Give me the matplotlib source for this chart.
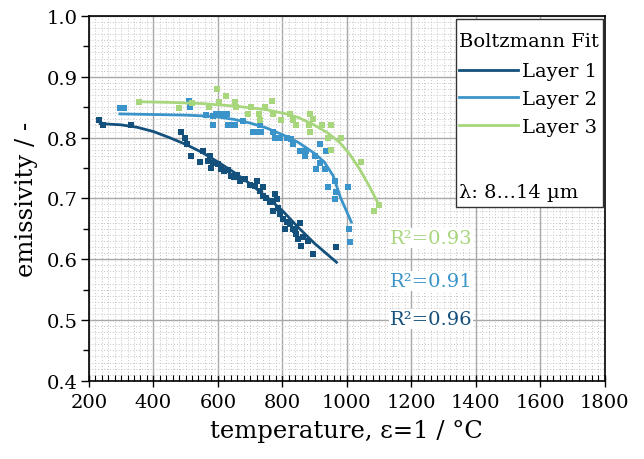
import matplotlib
matplotlib.use("Agg")
import matplotlib.pyplot as plt
from matplotlib.patches import Rectangle
from matplotlib.ticker import MultipleLocator

plt.rcParams['font.family'] = ['DejaVu Serif', 'Liberation Serif']

# ---- data ----
l1_x = [231, 244, 332, 487, 498, 503, 518, 544, 554, 570, 575, 580, 585, 601, 611, 620, 632, 642,
        650, 658, 668, 684, 700, 715, 720, 730, 741, 741, 750, 761, 771, 771, 777, 782, 787, 792,
        802, 808, 813, 823, 833, 840, 844, 849, 854, 859, 864, 880, 895, 966]
l1_y = [0.829, 0.821, 0.820, 0.809, 0.799, 0.789, 0.769, 0.760, 0.778, 0.762, 0.770, 0.750, 0.759,
        0.757, 0.748, 0.745, 0.746, 0.737, 0.735, 0.738, 0.729, 0.732, 0.722, 0.720, 0.729, 0.713,
        0.704, 0.718, 0.700, 0.694, 0.696, 0.680, 0.707, 0.699, 0.685, 0.674, 0.666, 0.650, 0.661,
        0.658, 0.650, 0.648, 0.641, 0.633, 0.660, 0.622, 0.636, 0.630, 0.609, 0.620]

l2_x = [296, 309, 511, 513, 563, 584, 585, 594, 611, 627, 632, 647, 653, 678, 709, 715, 722, 730,
        735, 771, 777, 782, 792, 813, 828, 833, 854, 870, 875, 901, 906, 916, 916, 932, 937, 942,
        963, 963, 968, 1004, 1007, 1011]
l2_y = [0.849, 0.849, 0.861, 0.850, 0.838, 0.820, 0.835, 0.839, 0.839, 0.839, 0.820, 0.820, 0.820,
        0.828, 0.809, 0.810, 0.810, 0.820, 0.809, 0.809, 0.799, 0.800, 0.799, 0.799, 0.798, 0.789,
        0.778, 0.770, 0.778, 0.770, 0.748, 0.759, 0.789, 0.748, 0.778, 0.719, 0.729, 0.699, 0.710,
        0.719, 0.650, 0.629]

l3_x = [356, 480, 521, 573, 596, 604, 624, 653, 656, 694, 704, 727, 730, 746, 767, 770, 797, 823,
        833, 844, 883, 885, 887, 895, 922, 942, 950, 952, 983, 1044, 1085, 1100]
l3_y = [0.859, 0.849, 0.857, 0.850, 0.880, 0.859, 0.869, 0.859, 0.850, 0.839, 0.850, 0.839, 0.829,
        0.850, 0.860, 0.839, 0.829, 0.839, 0.829, 0.820, 0.820, 0.839, 0.809, 0.830, 0.820, 0.800,
        0.820, 0.779, 0.800, 0.760, 0.679, 0.689]

# Boltzmann fit curves
f1_x = [235, 300, 350, 400, 450, 500, 550, 600, 650, 700, 750, 800, 850, 900, 968]
f1_y = [0.823, 0.821, 0.817, 0.810, 0.800, 0.789, 0.776, 0.760, 0.743, 0.724, 0.703, 0.680, 0.652, 0.626, 0.595]
f2_x = [296, 400, 500, 585, 650, 700, 750, 800, 850, 900, 930, 958, 980, 1000, 1014]
f2_y = [0.839, 0.838, 0.837, 0.835, 0.830, 0.824, 0.816, 0.805, 0.792, 0.774, 0.760, 0.737, 0.702, 0.678, 0.661]
f3_x = [356, 450, 550, 650, 750, 813, 850, 895, 940, 978, 1010, 1040, 1070, 1100]
f3_y = [0.859, 0.858, 0.856, 0.852, 0.846, 0.839, 0.833, 0.822, 0.808, 0.792, 0.772, 0.748, 0.720, 0.689]

labels = ['Layer 1', 'Layer 2', 'Layer 3']
colors = ['#14507c', '#3b94c9', '#a7d67c']
r2_labels = ['R²=0.96', 'R²=0.91', 'R²=0.93']
r2_y = [0.502, 0.564, 0.635]

x_ticks = [200, 400, 600, 800, 1000, 1200, 1400, 1600, 1800]
y_ticks = [0.4, 0.5, 0.6, 0.7, 0.8, 0.9, 1.0]

# ---- figure ----
fig = plt.figure(figsize=(6.44, 4.60), dpi=100)
ax = fig.add_axes([0.138, 0.170, 0.801, 0.793])

pts = [(l1_x, l1_y), (l2_x, l2_y), (l3_x, l3_y)]
fits = [(f1_x, f1_y), (f2_x, f2_y), (f3_x, f3_y)]
handles = []
for (px, py), (fx, fy), c, lab in zip(pts, fits, colors, labels):
    ax.plot(px, py, 's', color=c, markersize=4.3, markeredgewidth=0, zorder=3)
    h, = ax.plot(fx, fy, '-', color=c, lw=2.0, zorder=4, label=lab)
    handles.append(h)

ax.set_xlim(200, 1800)
ax.set_ylim(0.4, 1.0)
ax.set_xticks(x_ticks)
ax.set_yticks(y_ticks)
ax.set_yticklabels([f"{v:.1f}" for v in y_ticks])
ax.xaxis.set_minor_locator(MultipleLocator(20))
ax.yaxis.set_minor_locator(MultipleLocator(0.01))

ax.grid(which='major', color='#a8a8a8', lw=1.0, ls='-', zorder=0)
ax.grid(which='minor', color='#c4c4c4', lw=0.7, ls=(0, (1, 2)), zorder=0)
ax.set_axisbelow(True)

ax.tick_params(axis='x', which='major', direction='inout', length=9, width=1.0, labelsize=14, pad=4)
ax.tick_params(axis='x', which='minor', direction='in', length=4, width=0.8)
ax.tick_params(axis='y', which='major', direction='out', length=6, width=1.0, labelsize=14, pad=2)
ax.tick_params(axis='y', which='minor', length=0)
sec = ax.secondary_yaxis('left')
sec.set_yticks([0.45, 0.55, 0.65, 0.75, 0.85, 0.95])
sec.tick_params(direction='out', length=4, width=1.0, labelleft=False)
sec.spines['left'].set_visible(False)

for s in ax.spines.values():
    s.set_color('black')
    s.set_linewidth(1.2)

ax.set_xlabel('temperature, ε=1 / °C', fontsize=17.5, labelpad=6)
ax.set_ylabel('emissivity / -', fontsize=17.5, labelpad=6)

# R² annotations
for lab, yy, c in zip(r2_labels, r2_y, colors):
    ax.text(1133, yy, lab, color=c, fontsize=14, va='center', ha='left', zorder=5,
            bbox=dict(facecolor='white', edgecolor='none', pad=0.5))

# legend box
rect = Rectangle((0.711, 0.477), 0.285, 0.515, transform=ax.transAxes, facecolor='white',
                 edgecolor='#333333', lw=1.0, zorder=6)
ax.add_patch(rect)
leg = ax.legend(handles=handles, labels=labels, title='Boltzmann Fit', loc='upper left',
                bbox_to_anchor=(0.703, 0.978), frameon=False, fontsize=14, title_fontsize=14,
                handlelength=3.0, handletextpad=0.2, labelspacing=0.5, borderaxespad=0.0,
                alignment='left')
leg._legend_box.sep = 9
leg.set_zorder(7)
ax.text(0.718, 0.518, 'λ: 8…14 µm', transform=ax.transAxes, fontsize=14, va='center',
        ha='left', zorder=8)

fig.savefig('out.png', dpi=100)
